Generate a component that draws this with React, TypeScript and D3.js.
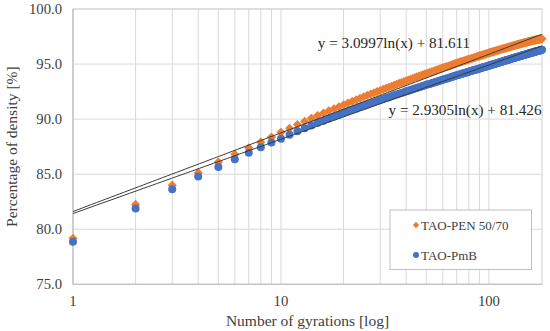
import React from 'react';
import * as d3 from 'd3';

const W = 550;
const H = 331;
const M = { left: 73, right: 8, top: 9, bottom: 46.7 };

// gyration count for every point (1..180)
const gyrations = Array.from({ length: 180 }, (_, i) => i + 1);

// TAO-PEN 50/70, density [%]
const penValues = [
  79.18, 82.25, 84.0, 85.14, 86.1, 86.8, 87.4, 87.91, 88.37, 88.8,
  89.17, 89.51, 89.8, 90.07, 90.33, 90.54, 90.75, 90.94, 91.12, 91.3,
  91.46, 91.61, 91.75, 91.89, 92.03, 92.15, 92.27, 92.39, 92.5, 92.6,
  92.7, 92.8, 92.89, 92.98, 93.07, 93.16, 93.24, 93.32, 93.4, 93.48,
  93.55, 93.62, 93.69, 93.76, 93.83, 93.89, 93.95, 94.02, 94.08, 94.14,
  94.19, 94.24, 94.29, 94.34, 94.4, 94.45, 94.5, 94.55, 94.6, 94.65,
  94.69, 94.74, 94.78, 94.82, 94.87, 94.91, 94.95, 94.99, 95.04, 95.08,
  95.12, 95.15, 95.19, 95.22, 95.26, 95.29, 95.33, 95.36, 95.4, 95.43,
  95.46, 95.49, 95.52, 95.55, 95.59, 95.62, 95.65, 95.68, 95.71, 95.74,
  95.77, 95.79, 95.82, 95.85, 95.88, 95.9, 95.93, 95.96, 95.98, 96.01,
  96.03, 96.06, 96.08, 96.1, 96.13, 96.15, 96.17, 96.19, 96.22, 96.24,
  96.26, 96.28, 96.3, 96.32, 96.35, 96.37, 96.39, 96.41, 96.43, 96.45,
  96.47, 96.49, 96.51, 96.53, 96.55, 96.56, 96.58, 96.6, 96.62, 96.64,
  96.66, 96.67, 96.69, 96.71, 96.73, 96.74, 96.76, 96.78, 96.79, 96.81,
  96.83, 96.84, 96.86, 96.87, 96.89, 96.9, 96.92, 96.93, 96.95, 96.96,
  96.97, 96.99, 97.0, 97.02, 97.03, 97.04, 97.06, 97.07, 97.09, 97.1,
  97.11, 97.12, 97.13, 97.14, 97.16, 97.17, 97.18, 97.19, 97.2, 97.21,
  97.22, 97.23, 97.24, 97.25, 97.26, 97.26, 97.27, 97.28, 97.29, 97.3,
];

// TAO-PmB, density [%]
const pmbValues = [
  78.87, 81.89, 83.64, 84.78, 85.65, 86.35, 86.95, 87.44, 87.87, 88.22,
  88.57, 88.89, 89.16, 89.42, 89.66, 89.86, 90.05, 90.23, 90.4, 90.57,
  90.71, 90.84, 90.97, 91.1, 91.22, 91.33, 91.44, 91.54, 91.64, 91.73,
  91.82, 91.91, 91.99, 92.08, 92.16, 92.23, 92.31, 92.38, 92.45, 92.52,
  92.58, 92.65, 92.71, 92.77, 92.83, 92.89, 92.95, 93.0, 93.06, 93.11,
  93.16, 93.2, 93.25, 93.3, 93.35, 93.39, 93.44, 93.49, 93.53, 93.58,
  93.62, 93.66, 93.7, 93.74, 93.78, 93.82, 93.86, 93.9, 93.94, 93.98,
  94.01, 94.05, 94.08, 94.11, 94.15, 94.18, 94.21, 94.24, 94.28, 94.31,
  94.34, 94.37, 94.4, 94.43, 94.46, 94.48, 94.51, 94.54, 94.57, 94.6,
  94.63, 94.65, 94.68, 94.7, 94.73, 94.76, 94.78, 94.81, 94.83, 94.86,
  94.88, 94.91, 94.93, 94.96, 94.98, 95.0, 95.03, 95.05, 95.08, 95.1,
  95.12, 95.14, 95.17, 95.19, 95.21, 95.23, 95.25, 95.28, 95.3, 95.32,
  95.34, 95.36, 95.38, 95.4, 95.42, 95.44, 95.46, 95.48, 95.5, 95.52,
  95.54, 95.56, 95.57, 95.59, 95.61, 95.63, 95.65, 95.66, 95.68, 95.7,
  95.72, 95.73, 95.75, 95.77, 95.79, 95.8, 95.82, 95.84, 95.85, 95.87,
  95.89, 95.9, 95.92, 95.93, 95.95, 95.96, 95.98, 95.99, 96.01, 96.02,
  96.04, 96.05, 96.07, 96.08, 96.1, 96.11, 96.13, 96.14, 96.16, 96.17,
  96.18, 96.2, 96.21, 96.22, 96.24, 96.25, 96.26, 96.27, 96.29, 96.3,
];

// log trendlines y = a ln(x) + b, as printed on the chart
const trendSlopes = [3.0997, 2.9305];
const trendIntercepts = [81.611, 81.426];
const trendLabels = ['y = 3.0997ln(x) + 81.611', 'y = 2.9305ln(x) + 81.426'];

const seriesNames = ['TAO-PEN 50/70', 'TAO-PmB'];
const seriesColors = ['#ED7D31', '#4472C4'];

const yTicks = [75, 80, 85, 90, 95, 100];
const xGrid = [1, 2, 3, 4, 5, 6, 7, 8, 9, 10, 20, 30, 40, 50, 60, 70, 80, 90, 100];
const xTickLabels = [1, 10, 100];

const FONT = '"Liberation Serif", "Times New Roman", serif';

const diamond = (cx: number, cy: number, r: number) =>
  `M${cx},${cy - r}L${cx + r},${cy}L${cx},${cy + r}L${cx - r},${cy}Z`;

export default function App() {
  const x = d3.scaleLog().domain([1, 180]).range([M.left, W - M.right]);
  const y = d3.scaleLinear().domain([75, 100]).range([H - M.bottom, M.top]);

  const trendLine = (i: number) =>
    d3
      .line<number>()
      .x((g) => x(g))
      .y((g) => y(trendSlopes[i] * Math.log(g) + trendIntercepts[i]))(
      d3.range(0, 101).map((k) => Math.pow(180, k / 100))
    ) as string;

  const txt = '#404040';

  return (
    <svg width={W} height={H} style={{ display: 'block', position: 'absolute', left: 0, top: 0 }}>
      <rect width={W} height={H} fill="#fff" />
      {/* grid */}
      {yTicks.map((t) => (
        <line key={`gy${t}`} x1={x(1)} x2={x(180)} y1={y(t)} y2={y(t)} stroke="#d9d9d9" strokeWidth={1} />
      ))}
      {xGrid.map((g) => (
        <line key={`gx${g}`} x1={x(g)} x2={x(g)} y1={y(75)} y2={y(100)} stroke="#d9d9d9" strokeWidth={1} />
      ))}
      <rect
        x={x(1)}
        y={y(100)}
        width={x(180) - x(1)}
        height={y(75) - y(100)}
        fill="none"
        stroke="#d0d0d0"
        strokeWidth={1}
      />
      <line x1={x(1)} x2={x(180)} y1={y(75)} y2={y(75)} stroke="#bfbfbf" />
      <line x1={x(1)} x2={x(1)} y1={y(75)} y2={y(100)} stroke="#bfbfbf" />

      {/* y tick labels */}
      {yTicks.map((t) => (
        <text
          key={`ty${t}`}
          x={x(1) - 11}
          y={y(t)}
          dy="0.35em"
          textAnchor="end"
          fontFamily={FONT}
          fontSize={14.7}
          fill={txt}
        >
          {t.toFixed(1)}
        </text>
      ))}
      {/* x tick labels */}
      {xTickLabels.map((t) => (
        <text
          key={`tx${t}`}
          x={x(t)}
          y={y(75) + 22}
          textAnchor="middle"
          fontFamily={FONT}
          fontSize={14.7}
          fill={txt}
        >
          {t}
        </text>
      ))}

      {/* points */}
      {penValues.map((v, i) => (
        <path key={`p${i}`} d={diamond(x(gyrations[i]), y(v), 4.6)} fill={seriesColors[0]} />
      ))}
      {pmbValues.map((v, i) => (
        <circle key={`b${i}`} cx={x(gyrations[i])} cy={y(v)} r={4} fill={seriesColors[1]} />
      ))}

      {/* trendlines */}
      {[0, 1].map((i) => (
        <path key={`tl${i}`} d={trendLine(i)} fill="none" stroke="#3a3a3a" strokeWidth={1} />
      ))}
      <text x={394} y={48} textAnchor="middle" fontFamily={FONT} fontSize={15.2} fill="#262626">
        {trendLabels[0]}
      </text>
      <text x={465} y={115} textAnchor="middle" fontFamily={FONT} fontSize={15.2} fill="#262626">
        {trendLabels[1]}
      </text>

      {/* legend */}
      <rect x={390} y={210} width={141.5} height={59.5} fill="#fff" stroke="#bfbfbf" strokeWidth={1} />
      <path d={diamond(416, 225, 3.2)} fill={seriesColors[0]} />
      <text x={421} y={225} dy="0.35em" fontFamily={FONT} fontSize={13} fill={txt}>
        {seriesNames[0]}
      </text>
      <circle cx={416} cy={255} r={3} fill={seriesColors[1]} />
      <text x={421} y={255} dy="0.35em" fontFamily={FONT} fontSize={13} fill={txt}>
        {seriesNames[1]}
      </text>

      {/* axis titles */}
      <text
        x={(x(1) + x(180)) / 2}
        y={326}
        textAnchor="middle"
        fontFamily={FONT}
        fontSize={15.5}
        fill={txt}
      >
        Number of gyrations [log]
      </text>
      <text
        transform={`translate(17,${(y(75) + y(100)) / 2}) rotate(-90)`}
        textAnchor="middle"
        fontFamily={FONT}
        fontSize={15.5}
        fill={txt}
      >
        Percentage of density [%]
      </text>
    </svg>
  );
}
